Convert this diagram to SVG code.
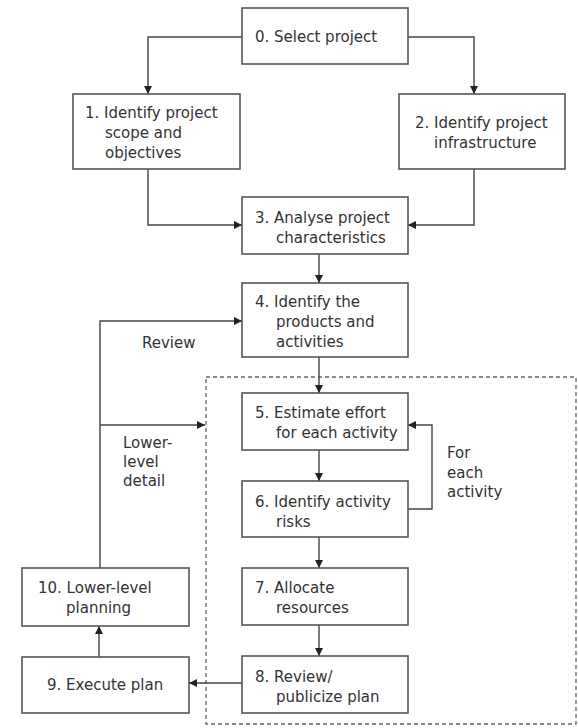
<svg xmlns="http://www.w3.org/2000/svg" width="578" height="728" viewBox="0 0 578 728">
<defs>
<marker id="ah" viewBox="0 0 10 10" refX="10" refY="5" markerUnits="userSpaceOnUse" markerWidth="9" markerHeight="8" orient="auto">
<path d="M0,0 L10,5 L0,10 z" fill="#222"/>
</marker>
<style>
.box{fill:#fff;stroke:#555;stroke-width:1.6}
.t{font-family:"DejaVu Sans","Liberation Sans",sans-serif;font-size:15px;fill:#333}
.c{fill:none;stroke:#444;stroke-width:1.4;marker-end:url(#ah)}
.l{fill:none;stroke:#444;stroke-width:1.4}
.dash{fill:none;stroke:#666;stroke-width:1.3;stroke-dasharray:4 3}
</style>
</defs>
<rect width="578" height="728" fill="#fff"/>
<rect class="dash" x="206" y="377" width="370" height="347"/>
<g id="connectors">
<path class="c" d="M242,37 H148 V94"/>
<path class="c" d="M408,37 H474 V94"/>
<path class="c" d="M148,169 V225 H242"/>
<path class="c" d="M474,169 V225 H408"/>
<path class="c" d="M319,254 V283"/>
<path class="c" d="M319,357 V393"/>
<path class="c" d="M319,450 V481"/>
<path class="c" d="M319,537 V568"/>
<path class="c" d="M319,625 V656"/>
<path class="c" d="M408,509 H432 V425 H408"/>
<path class="c" d="M242,683 H189"/>
<path class="c" d="M99,657 V626"/>
<path class="c" d="M100,568 V321 H242"/>
<path class="c" d="M100,425 H205"/>
</g>
<g id="n0"><rect class="box" x="242" y="8" width="166" height="56"/><text class="t" x="255" y="42">0. Select project</text></g>
<g id="n1"><rect class="box" x="73" y="94" width="167" height="75"/><text class="t" x="85" y="118">1. Identify project</text><text class="t" x="105" y="138">scope and</text><text class="t" x="105" y="158">objectives</text></g>
<g id="n2"><rect class="box" x="399" y="94" width="166" height="75"/><text class="t" x="415" y="128">2. Identify project</text><text class="t" x="434" y="148">infrastructure</text></g>
<g id="n3"><rect class="box" x="242" y="197" width="166" height="57"/><text class="t" x="255" y="223">3. Analyse project</text><text class="t" x="276" y="243">characteristics</text></g>
<g id="n4"><rect class="box" x="242" y="283" width="166" height="74"/><text class="t" x="255" y="307">4. Identify the</text><text class="t" x="276" y="327">products and</text><text class="t" x="276" y="347">activities</text></g>
<g id="n5"><rect class="box" x="242" y="393" width="166" height="57"/><text class="t" x="255" y="418">5. Estimate effort</text><text class="t" x="276" y="438">for each activity</text></g>
<g id="n6"><rect class="box" x="242" y="481" width="166" height="56"/><text class="t" x="255" y="507">6. Identify activity</text><text class="t" x="276" y="527">risks</text></g>
<g id="n7"><rect class="box" x="242" y="568" width="166" height="57"/><text class="t" x="255" y="593">7. Allocate</text><text class="t" x="276" y="613">resources</text></g>
<g id="n8"><rect class="box" x="242" y="656" width="166" height="57"/><text class="t" x="255" y="682">8. Review/</text><text class="t" x="276" y="702">publicize plan</text></g>
<g id="n9"><rect class="box" x="22" y="657" width="167" height="56"/><text class="t" x="47" y="690">9. Execute plan</text></g>
<g id="n10"><rect class="box" x="22" y="568" width="167" height="58"/><text class="t" x="38" y="593">10. Lower-level</text><text class="t" x="66" y="613">planning</text></g>
<g id="labels">
<text class="t" x="142" y="348">Review</text>
<text class="t" x="123" y="448">Lower-</text>
<text class="t" x="123" y="467">level</text>
<text class="t" x="123" y="486">detail</text>
<text class="t" x="447" y="458">For</text>
<text class="t" x="447" y="478">each</text>
<text class="t" x="447" y="497">activity</text>
</g>
</svg>
